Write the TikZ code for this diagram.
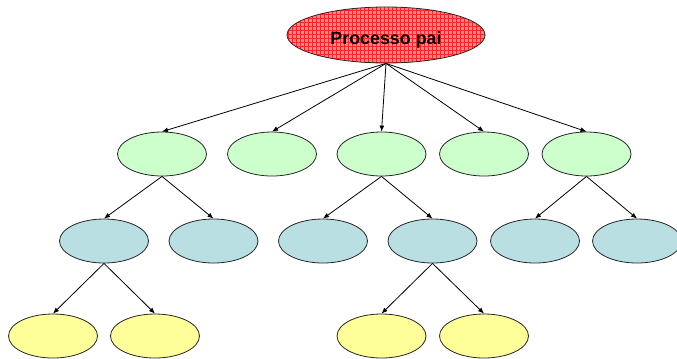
\documentclass[tikz,border=0pt]{standalone}
\usepackage{fontspec}
\setmainfont{Liberation Sans}
\usepackage{xcolor}
\usetikzlibrary{shapes.geometric,patterns,arrows.meta}
\definecolor{verde}{HTML}{CCFFCC}
\definecolor{azul}{HTML}{B9DFE3}
\definecolor{amarelo}{HTML}{FFFF99}
\definecolor{rosa}{HTML}{FF8A8A}

\tikzset{
  proc/.style={ellipse,draw=black!85,line width=0.6pt,inner sep=0pt,
    minimum width=66.75pt,minimum height=33pt},
  filho/.style={proc,fill=verde},
  neto/.style={proc,fill=azul},
  bisneto/.style={proc,fill=amarelo},
  raiz/.style={proc,minimum width=148.5pt,minimum height=42pt,
    preaction={fill=rosa},pattern=grid,pattern color=red!85,
    text height=15.5pt,text depth=1.5pt,
    font=\fontsize{13.4}{16}\selectfont\bfseries}
}

\begin{document}
\begin{tikzpicture}[x=0.75pt,y=-0.75pt]
  \useasboundingbox (0,0) rectangle (677,358);
  \node[raiz] (pai) at (386,35) {Processo pai};
  % primeiro nivel
  \node[filho] (f1) at (162,154) {};
  \node[filho] (f2) at (272,154) {};
  \node[filho] (f3) at (381.5,154) {};
  \node[filho] (f4) at (484,154) {};
  \node[filho] (f5) at (586.5,154) {};
  % segundo nivel
  \node[neto] (n1) at (104,241) {};
  \node[neto] (n2) at (213.5,241) {};
  \node[neto] (n3) at (323,241) {};
  \node[neto] (n4) at (432.5,241) {};
  \node[neto] (n5) at (535,241) {};
  \node[neto] (n6) at (637,241) {};
  % terceiro nivel
  \node[bisneto] (b1) at (53,336) {};
  \node[bisneto] (b2) at (155,336) {};
  \node[bisneto] (b3) at (381.5,336) {};
  \node[bisneto] (b4) at (484,336) {};
  \path[-{Latex[length=4.5pt,width=3.6pt]},line width=0.6pt]
    (pai.south) edge (f1.north)
                edge (f2.north)
                edge (f3.north)
                edge (f4.north)
                edge (f5.north)
    (f1.south) edge (n1.north)
               edge (n2.north)
    (f3.south) edge (n3.north)
               edge (n4.north)
    (f5.south) edge (n5.north)
               edge (n6.north)
    (n1.south) edge (b1.north)
               edge (b2.north)
    (n4.south) edge (b3.north)
               edge (b4.north);
\end{tikzpicture}
\end{document}
